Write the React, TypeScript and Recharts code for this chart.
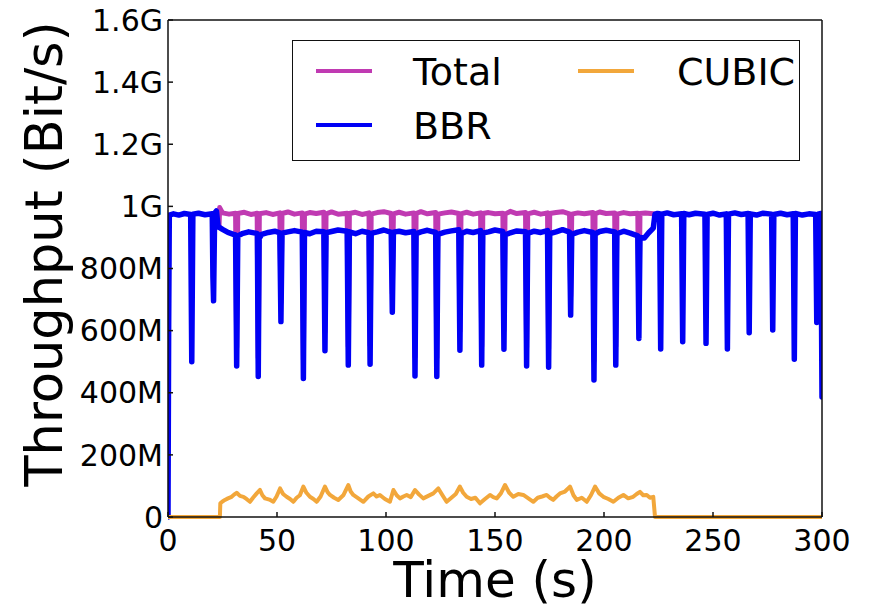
import { LineChart, Line, XAxis, YAxis, Legend, Label } from 'recharts';

// time axis in seconds, rates in Mbit/s
const xTicks = [0, 50, 100, 150, 200, 250, 300];
const yTicks = [0, 200, 400, 600, 800, 1000, 1200, 1400, 1600];
const yTickLabels = ['0', '200M', '400M', '600M', '800M', '1G', '1.2G', '1.4G', '1.6G'];
const legendOrder = ['Total', 'BBR', 'CUBIC'];

const totalTime = [
  23.4, 23.7, 25, 28, 31,
  31.5, 32, 35, 38, 40.9,
  41.4, 41.9, 45, 48, 51.3,
  51.8, 52.3, 55, 58, 61.6,
  62.1, 62.6, 65, 68, 71.5,
  72.0, 72.5, 75, 78, 82.2,
  82.7, 83.2, 86, 89, 92.2,
  92.7, 93.2, 96, 99, 102.4,
  102.9, 103.4, 106, 109, 112.8,
  113.3, 113.8, 116, 119, 122.8,
  123.3, 123.8, 127, 130, 133.4,
  133.9, 134.4, 137, 140, 143.4,
  143.9, 144.4, 147, 150, 153.6,
  154.1, 154.6, 157, 160, 164,
  164.5, 165, 168, 171, 174.1,
  174.6, 175.1, 178, 181, 184.2,
  184.7, 185.2, 188, 191, 194.9,
  195.4, 195.9, 198, 201, 204.9,
  205.4, 205.9, 209, 212, 215.5,
  216.0, 216.5, 219, 222.6, 223.4,
];
const totalRate = [
  935, 996, 979, 975, 978,
  546, 977, 981, 974, 978,
  512, 976, 980, 974, 979,
  689, 977, 982, 975, 979,
  506, 975, 980, 977, 981,
  595, 976, 982, 975, 978,
  549, 977, 981, 974, 979,
  552, 975, 980, 983, 977,
  719, 976, 981, 975, 979,
  514, 977, 983, 976, 980,
  512, 975, 979, 982, 977,
  597, 976, 981, 975, 979,
  549, 977, 980, 976, 978,
  600, 975, 984, 977, 980,
  546, 976, 981, 975, 979,
  542, 977, 980, 983, 976,
  710, 975, 979, 976, 980,
  501, 976, 982, 977, 979,
  549, 975, 980, 976, 978,
  635, 977, 979, 976, 975,
];

const bbrTime = [
  0, 0.3, 0.6, 2.5, 5, 7.5,
  10.4, 10.9, 11.4, 14, 17,
  20.3, 20.6, 20.9, 21.4, 22.2,
  23, 25, 27.5, 30,
  31, 31.5, 32, 34, 37, 40,
  41, 41.4, 41.8, 43, 46, 49, 51.3,
  51.8, 52.3, 55, 58, 61.6,
  62.1, 62.6, 65, 68, 71.5,
  72.0, 72.5, 75, 78, 82.2,
  82.7, 83.2, 86, 89, 92.2,
  92.7, 93.2, 96, 99, 102.4,
  102.9, 103.4, 106, 109, 112.8,
  113.3, 113.8, 116, 119, 122.8,
  123.3, 123.8, 127, 130, 133.4,
  133.9, 134.4, 137, 140, 143.4,
  143.9, 144.4, 147, 150, 153.6,
  154.1, 154.6, 157, 160, 164,
  164.5, 165, 168, 171, 174.1,
  174.6, 175.1, 178, 181, 184.2,
  184.7, 185.2, 188, 191, 194.9,
  195.4, 195.9, 198, 201, 204.9,
  205.4, 205.9, 209, 212, 215.5,
  216.0, 216.5, 218.5, 220.5, 222.6, 223.4, 224.5,
  225.5, 226.0, 226.5, 229, 232, 235.6,
  236.1, 236.6, 239, 242, 246.3,
  246.8, 247.3, 250, 253, 256.1,
  256.6, 257.1, 260, 263, 266.1,
  266.6, 267.1, 270, 273, 276.9,
  277.4, 277.9, 281, 284, 286.8,
  287.3, 287.8, 291, 294, 297.1,
  297.6, 298.1, 299.5, 300,
];
const bbrRate = [
  0, 620, 972, 976, 972, 977,
  974, 500, 975, 978, 973,
  976, 774, 696, 978, 985,
  935, 926, 916, 910,
  908, 486, 905, 912, 918, 914,
  912, 452, 896, 910, 916, 920, 915,
  629, 914, 918, 922, 917,
  446, 916, 912, 920, 918,
  535, 915, 919, 924, 920,
  489, 918, 912, 920, 915,
  492, 913, 918, 924, 916,
  659, 917, 920, 915, 919,
  454, 912, 918, 923, 916,
  452, 910, 917, 921, 925,
  537, 912, 920, 916, 922,
  489, 914, 918, 924, 919,
  540, 908, 915, 921, 918,
  486, 913, 920, 916, 922,
  482, 912, 918, 925, 917,
  650, 910, 917, 922, 916,
  441, 911, 919, 923, 918,
  489, 912, 920, 914, 905,
  575, 900, 898, 915, 930, 975, 977,
  976, 541, 975, 979, 973, 976,
  564, 977, 973, 978, 975,
  559, 974, 978, 972, 976,
  541, 975, 979, 974, 977,
  593, 976, 972, 978, 975,
  602, 974, 978, 973, 976,
  508, 977, 972, 976, 974,
  626, 975, 977, 386,
];

const cubicTime = [
  0, 23.8, 24.0, 25.0, 26.1, 27.5, 29.2, 30.3, 31.5, 33.0,
  34.6, 36.0, 37.6, 39.0, 40.7, 42.2, 43.3, 44.5, 46.5, 48.3,
  49.8, 51.4, 52.8, 54.4, 56.0, 57.5, 59.0, 60.5, 62.1, 63.5,
  65.1, 66.7, 68.2, 70.0, 72.0, 73.2, 74.3, 76.2, 78.1, 80.4,
  82.7, 83.8, 85.0, 87.3, 89.6, 91.9, 94.2, 95.7, 97.2, 99.5,
  101.8, 103.4, 104.9, 106.4, 108.0, 109.5, 111.4, 113.3, 115.2, 117.1,
  119.4, 121.7, 124.0, 125.9, 127.8, 130.0, 132.0, 133.9, 135.4, 137.0,
  139.0, 141.0, 143.1, 145.4, 147.7, 149.2, 150.8, 152.7, 154.6, 156.5,
  158.4, 160.7, 163.0, 165.3, 167.6, 169.6, 171.6, 173.7, 175.2, 176.7,
  178.2, 179.8, 182.1, 184.4, 186.0, 187.5, 189.8, 192.1, 194.0, 195.9,
  197.8, 199.7, 202.0, 204.3, 206.6, 208.9, 211.1, 213.4, 215.0, 216.5,
  218.0, 219.6, 221.1, 222.6, 223.4, 300,
];
const cubicRate = [
  0, 0, 44, 50, 55, 60, 65, 72, 78, 68,
  65, 58, 49, 62, 76, 87, 70, 60, 56, 49,
  66, 92, 74, 65, 58, 49, 62, 70, 98, 78,
  65, 58, 49, 66, 98, 80, 71, 62, 55, 70,
  103, 82, 71, 60, 49, 66, 76, 66, 71, 58,
  49, 87, 70, 60, 66, 71, 64, 87, 72, 60,
  68, 76, 92, 70, 49, 62, 74, 98, 78, 65,
  58, 62, 44, 58, 71, 64, 60, 76, 103, 78,
  65, 74, 71, 60, 49, 62, 66, 71, 62, 55,
  66, 76, 82, 98, 70, 55, 62, 49, 70, 98,
  76, 65, 58, 49, 62, 71, 60, 65, 74, 81,
  70, 71, 62, 65, 0, 0,
];

const toRows = (t: number[], v: number[]) => t.map((time, i) => ({ time, rate: v[i] }));

const FONT = 'DejaVu Sans';

const renderLegend = (props: any) => {
  const items = [...(props.payload || [])].sort(
    (a: any, b: any) => legendOrder.indexOf(a.value) - legendOrder.indexOf(b.value)
  );
  return (
    <div
      style={{
        position: 'relative',
        width: 508,
        height: 121,
        border: '1.5px solid #111',
        boxSizing: 'border-box',
        background: '#fff',
        fontFamily: FONT,
      }}
    >
      {items.map((p: any, i: number) => {
        const col = Math.floor(i / 2);
        const row = i % 2;
        const cy = 30 + row * 54;
        return (
          <div key={p.value}>
            <div
              style={{
                position: 'absolute',
                left: 23 + col * 262,
                top: cy - 2,
                width: 56,
                height: 4,
                background: p.color,
              }}
            />
            <div
              style={{
                position: 'absolute',
                left: 120 + col * 264,
                top: cy - 18,
                fontSize: 38,
                lineHeight: '38px',
                color: '#000',
                whiteSpace: 'nowrap',
              }}
            >
              {p.value}
            </div>
          </div>
        );
      })}
    </div>
  );
};

const tickStyle = { fontFamily: FONT, fontSize: 30, fill: '#000' };
const frame = { stroke: '#111', strokeWidth: 1.5 };

export default function App() {
  return (
    <div style={{ position: 'absolute', left: 0, top: 0, width: 870, height: 608, background: '#fff' }}>
      <LineChart width={870} height={608} margin={{ top: 0, right: 0, bottom: 0, left: 0 }}>
        <XAxis
          dataKey="time"
          type="number"
          domain={[0, 300]}
          ticks={xTicks}
          height={91}
          tickSize={-5}
          tickMargin={18}
          tick={tickStyle}
          axisLine={frame}
          tickLine={frame}
          allowDataOverflow
        >
          <Label
            content={(p: any) => (
              <text
                x={p.viewBox.x + p.viewBox.width / 2}
                y={597}
                textAnchor="middle"
                fontFamily={FONT}
                fontSize={50}
                fill="#000"
              >
                Time (s)
              </text>
            )}
          />
        </XAxis>
        <XAxis
          xAxisId="top"
          orientation="top"
          type="number"
          domain={[0, 300]}
          ticks={xTicks}
          height={20}
          tickSize={-5}
          tick={false}
          axisLine={frame}
          tickLine={frame}
        />
        <YAxis
          type="number"
          domain={[0, 1600]}
          ticks={yTicks}
          width={168}
          tickSize={-5}
          tickMargin={10}
          tick={tickStyle}
          tickFormatter={(v: number) => yTickLabels[yTicks.indexOf(v)]}
          axisLine={frame}
          tickLine={frame}
        >
          <Label
            content={() => (
              <text
                x={62}
                y={254}
                transform="rotate(-90, 62, 254)"
                textAnchor="middle"
                fontFamily={FONT}
                fontSize={51}
                fill="#000"
              >
                Throughput (Bit/s)
              </text>
            )}
          />
        </YAxis>
        <YAxis
          yAxisId="right"
          orientation="right"
          type="number"
          domain={[0, 1600]}
          ticks={yTicks}
          width={48}
          tickSize={-5}
          tick={false}
          axisLine={frame}
          tickLine={frame}
        />
        <Legend
          verticalAlign="middle"
          align="center"
          layout="horizontal"
          content={renderLegend}
          wrapperStyle={{ left: 292, top: 40, width: 508, height: 121 }}
        />
        <Line
          data={toRows(totalTime, totalRate)}
          dataKey="rate"
          name="Total"
          type="linear"
          stroke="#c03ab2"
          strokeWidth={5}
          strokeLinejoin="round"
          strokeLinecap="round"
          dot={false}
          isAnimationActive={false}
        />
        <Line
          data={toRows(bbrTime, bbrRate)}
          dataKey="rate"
          name="BBR"
          type="linear"
          stroke="#0000f5"
          strokeWidth={5.5}
          strokeLinejoin="round"
          strokeLinecap="round"
          dot={false}
          isAnimationActive={false}
        />
        <Line
          data={toRows(cubicTime, cubicRate)}
          dataKey="rate"
          name="CUBIC"
          type="linear"
          stroke="#f2a73b"
          strokeWidth={4}
          strokeLinejoin="round"
          strokeLinecap="round"
          dot={false}
          isAnimationActive={false}
        />
      </LineChart>
    </div>
  );
}
